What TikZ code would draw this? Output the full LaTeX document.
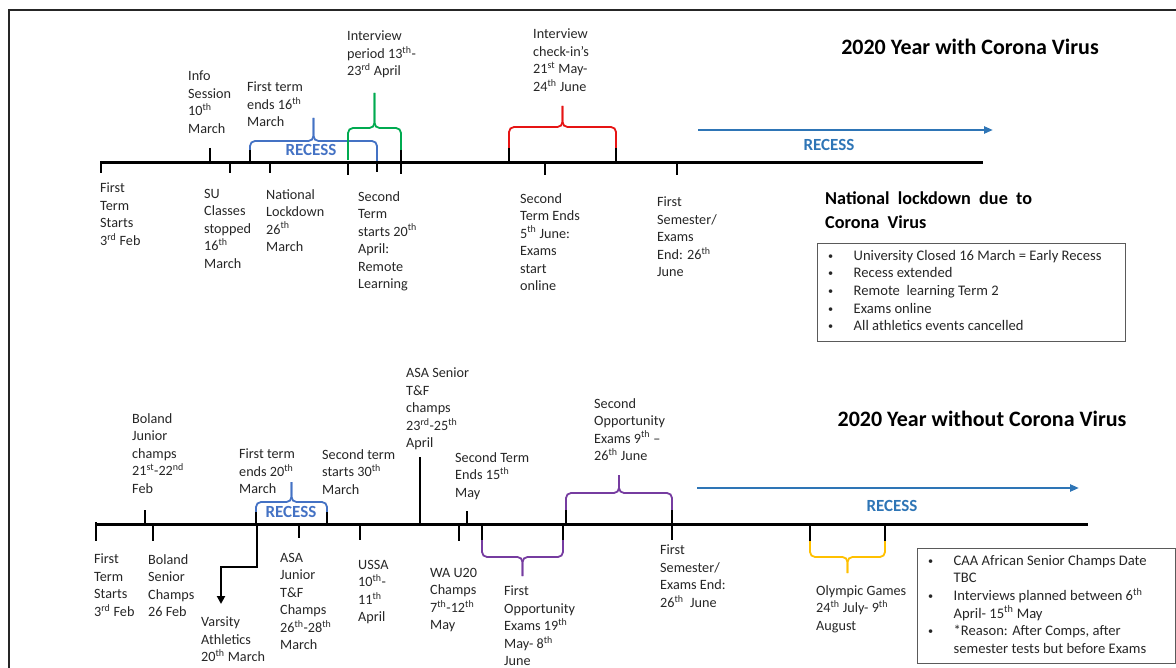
\documentclass[tikz,border=0pt]{standalone}
\usepackage{fontspec}
\setmainfont{Carlito}
\usetikzlibrary{arrows.meta}

\definecolor{txt}{RGB}{38,38,38}
\definecolor{recblue}{RGB}{68,114,196}
\definecolor{arrblue}{RGB}{46,117,182}
\definecolor{brgreen}{RGB}{0,170,80}
\definecolor{brred}{RGB}{230,20,20}
\definecolor{brpurple}{RGB}{118,60,160}
\definecolor{bryellow}{RGB}{255,192,0}
\definecolor{boxline}{RGB}{90,90,90}

\tikzset{
  lbl/.style={anchor=north west, inner sep=0pt, align=left, text=txt, yshift=-3pt,
              font=\fontsize{14.2}{17.5}\selectfont},
  title/.style={inner sep=0pt, text=black, font=\bfseries\fontsize{22}{26}\selectfont},
  subtitle/.style={anchor=north west, inner sep=0pt, align=left, text=black,
              font=\bfseries\fontsize{18.2}{24}\selectfont},
  axisline/.style={line width=3pt, black},
  tickmark/.style={line width=2.6pt, black},
  bracket/.style={line width=1.8pt, rounded corners=5pt},
  recess/.style={inner sep=0pt, font=\bfseries\fontsize{17}{20}\selectfont},
  recessarrow/.style={line width=2.2pt, arrblue, -{Triangle[length=9pt,width=7pt]}},
  notebox/.style={draw=boxline, line width=0.9pt},
  notes/.style={anchor=north west, inner sep=0pt, align=left, text=txt,
              font=\fontsize{14.6}{17.6}\selectfont},
  frame/.style={line width=2pt, black!85},
}

% tick mark at x from y1 to y2
\newcommand\tmark[3]{\draw[tickmark] (#1,#2) -- (#1,#3);}
% curly bracket: x1, x2, base y, bar y, tip y, colour
\newcommand\cbracket[6]{%
  \draw[bracket,#6] (#1,#3) -- (#1,#4) -- ({(#1+#2)/2},#4) -- ({(#1+#2)/2},#5);
  \draw[bracket,#6] (#2,#3) -- (#2,#4) -- ({(#1+#2)/2},#4) -- ({(#1+#2)/2},#5);}
\newcommand\sups[1]{\smash{\textsuperscript{#1}}}
\newcommand\bul{\makebox[25.5pt][l]{\raisebox{1pt}{\scalebox{0.7}{•}}}}

\begin{document}
\begin{tikzpicture}[x=1pt,y=-1pt]
\useasboundingbox (0,0) rectangle (1176,668);

% outer frame
\draw[frame] (1180,10) -- (9,10) -- (9,672);

% ================= 2020 with Corona Virus =================
\node[title] (t1) at (970,47) {2020 Year with Corona Virus};

% brackets above the axis
\cbracket{250}{377}{163}{141}{118}{recblue}
\node[recess, text=recblue] (r1) at (311,150) {RECESS};
\cbracket{348}{401}{160}{128}{93}{brgreen}
\cbracket{509}{616}{152}{127}{106}{brred}

% axis
\coordinate (a1s) at (100,163);
\coordinate (a1e) at (983,163);
\draw[axisline] (a1s) -- (a1e);

% tick marks
\tmark{101}{161}{173}
\tmark{210}{148}{163}
\tmark{230}{163}{173}
\tmark{250}{150}{163}
\tmark{270}{163}{173}
\tmark{348}{163}{175}
\tmark{377}{163}{172}
\tmark{401}{150}{174}
\tmark{509}{148}{163}
\tmark{616}{148}{161}
\tmark{545}{163}{175}
\tmark{677}{163}{175}

% recess arrow
\coordinate (ra1) at (698,130);
\coordinate (rb1) at (993,130);
\draw[recessarrow] (ra1) -- (rb1);
\node[recess, text=arrblue] (r2) at (829,145) {RECESS};

% labels
\node[lbl] (u1) at (100,180) {First\\Term\\Starts\\3\sups{rd} Feb};
\node[lbl] (u2) at (188,68) {Info\\Session\\10\sups{th}\\March};
\node[lbl] (u3) at (247,79) {First term\\ends 16\sups{th}\\March};
\node[lbl] (u4) at (204,186) {SU\\Classes\\stopped\\16\sups{th}\\March};
\node[lbl] (u5) at (266,186) {National\\Lockdown\\26\sups{th}\\March};
\node[lbl] (u6) at (358,188) {Second\\Term\\starts 20\sups{th}\\April:\\Remote\\Learning};
\node[lbl] (u7) at (347,28) {Interview\\period 13\sups{th}-\\23\sups{rd} April};
\node[lbl] (u8) at (533,26) {Interview\\check-in’s\\21\sups{st} May-\\24\sups{th} June};
\node[lbl] (u9) at (520,190) {Second\\Term Ends\\5\sups{th} June:\\Exams\\start\\online};
\node[lbl] (u10) at (657,194) {First\\Semester/\\Exams\\End: 26\sups{th}\\June};

% lockdown notes
\node[subtitle] (s1) at (825,192) {National\ \ lockdown\ \ due\ \ to\\Corona\ \ Virus};
\draw[notebox] (817,243) rectangle (1125,341);
\node[notes] (n1) at (828,250) {\bul University Closed 16 March = Early Recess\\
\bul Recess extended\\
\bul Remote\ \ learning Term 2\\
\bul Exams online\\
\bul All athletics events cancelled};

% ================= 2020 without Corona Virus =================
\node[title] (t2) at (982,419) {2020 Year without Corona Virus};

% brackets
\cbracket{256}{327}{524}{502}{482}{recblue}
\node[recess, text=recblue] (r3) at (291,512) {RECESS};
\cbracket{482}{563}{538}{557}{576}{brpurple}
\cbracket{566}{672}{512}{493}{475}{brpurple}
\cbracket{810}{885}{540}{557}{573}{bryellow}

% axis
\coordinate (a2s) at (95,524);
\coordinate (a2e) at (1088,524);
\draw[axisline] (a2s) -- (a2e);

% tick marks
\tmark{96}{522}{541}
\tmark{145}{510}{524}
\tmark{153}{524}{541}
\tmark{256}{512}{524}
\tmark{327}{512}{524}
\tmark{299}{524}{538}
\tmark{360}{524}{540}
\tmark{420}{457}{524}
\tmark{459}{524}{541}
\tmark{467}{511}{524}
\tmark{482}{524}{540}
\tmark{563}{524}{540}
\tmark{566}{510}{524}
\tmark{672}{510}{540}
\tmark{810}{524}{541}
\tmark{885}{524}{541}

% Varsity Athletics pointer
\coordinate (v0) at (257,524);
\coordinate (v1) at (221,604);
\draw[line width=2.6pt, black, -{Triangle[length=8pt,width=8pt]}] (v0) |- (221,567) -- (v1);

% recess arrow
\coordinate (ra2) at (697,488);
\coordinate (rb2) at (1079,488);
\draw[recessarrow] (ra2) -- (rb2);
\node[recess, text=arrblue] (r4) at (892,506) {RECESS};

% labels
\node[lbl] (l1) at (94,551) {First\\Term\\Starts\\3\sups{rd} Feb};
\node[lbl] (l2) at (148,551) {Boland\\Senior\\Champs\\26 Feb};
\node[lbl] (l3) at (132,410) {Boland\\Junior\\champs\\21\sups{st}-22\sups{nd}\\Feb};
\node[lbl] (l4) at (239,446) {First term\\ends 20\sups{th}\\March};
\node[lbl] (l5) at (322,446) {Second term\\starts 30\sups{th}\\March};
\node[lbl] (l6) at (406,365) {ASA Senior\\T\&F\\champs\\23\sups{rd}-25\sups{th}\\April};
\node[lbl] (l7) at (201,614) {Varsity\\Athletics\\20\sups{th} March};
\node[lbl] (l8) at (280,550) {ASA\\Junior\\T\&F\\Champs\\26\sups{th}-28\sups{th}\\March};
\node[lbl] (l9) at (358,557) {USSA\\10\sups{th}-\\11\sups{th}\\April};
\node[lbl] (l10) at (430,565) {WA U20\\Champs\\7\sups{th}-12\sups{th}\\May};
\node[lbl] (l11) at (455,449) {Second Term\\Ends 15\sups{th}\\May};
\node[lbl] (l12) at (504,583) {First\\Opportunity\\Exams 19\sups{th}\\May- 8\sups{th}\\June};
\node[lbl] (l13) at (594,395) {Second\\Opportunity\\Exams 9\sups{th} –\\26\sups{th} June};
\node[lbl] (l14) at (660,542) {First\\Semester/\\Exams End:\\26\sups{th}\ \ June};
\node[lbl] (l15) at (816,582) {Olympic Games\\24\sups{th} July- 9\sups{th}\\August};

% planning notes
\draw[notebox] (917,548) rectangle (1175,663);
\node[notes] (n2) at (928,555) {\bul CAA African Senior Champs Date\\
\hspace*{25.5pt}TBC\\
\bul Interviews planned between 6\sups{th}\\
\hspace*{25.5pt}April- 15\sups{th} May\\
\bul *Reason: After Comps, after\\
\hspace*{25.5pt}semester tests but before Exams};

\end{tikzpicture}
\end{document}
